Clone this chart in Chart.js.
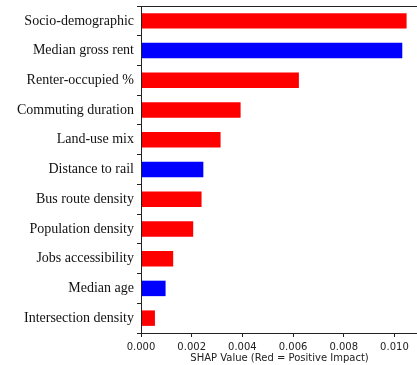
<!DOCTYPE html>
<html>
<head>
<meta charset="utf-8">
<script src="https://cdn.jsdelivr.net/npm/chart.js@4"></script>
<style>
  html, body { margin: 0; padding: 0; background: #fff; overflow: hidden; }
  #wrap { width: 417px; height: 365px; overflow: hidden; }
  canvas { display: block; }
</style>
</head>
<body>
<div id="wrap"><canvas id="c" width="430" height="365"></canvas></div>
<script>
// Feature names, ordered by mean absolute SHAP value
const features = [
  'Socio-demographic', 'Median gross rent', 'Renter-occupied %', 'Commuting duration',
  'Land-use mix', 'Distance to rail', 'Bus route density', 'Population density',
  'Jobs accessibility', 'Median age', 'Intersection density'
];
// Mean |SHAP| per feature
const shapValues = [
  0.01048, 0.01031, 0.00623, 0.00393, 0.00314, 0.00246, 0.00239, 0.00206,
  0.00127, 0.00097, 0.00055
];
// Sign of the effect: true = positive impact (red), false = negative (blue)
const positiveImpact = [
  true, false, true, true, true, false, true, true, true, false, true
];
const xTicks = [0, 0.002, 0.004, 0.006, 0.008, 0.010];

const RED = '#ff0000', BLUE = '#0000ff';

// Draws the axes frame (matplotlib-style spines)
const framePlugin = {
  id: 'frame',
  afterDatasetsDraw(chart) {
    const { ctx, chartArea: a } = chart;
    ctx.save();
    ctx.strokeStyle = '#222';
    ctx.lineWidth = 1;
    ctx.strokeRect(Math.round(a.left) + 0.5, Math.round(a.top) + 0.5,
                   Math.round(a.right - a.left), Math.round(a.bottom - a.top));
    ctx.restore();
  }
};

new Chart(document.getElementById('c'), {
  type: 'bar',
  data: {
    labels: features,
    datasets: [{
      data: shapValues,
      backgroundColor: positiveImpact.map(p => p ? RED : BLUE),
      borderWidth: 0,
      barPercentage: 0.52,
      categoryPercentage: 1.0
    }]
  },
  options: {
    indexAxis: 'y',
    responsive: false,
    animation: false,
    devicePixelRatio: 1,
    layout: { padding: { top: 6, right: 12, bottom: 0, left: 0 } },
    plugins: { legend: { display: false }, tooltip: { enabled: false } },
    scales: {
      x: {
        type: 'linear',
        min: 0,
        max: 0.01093,
        afterBuildTicks: s => { s.ticks = xTicks.map(v => ({ value: v })); },
        afterFit: s => { s.height = 32; },
        grid: { drawOnChartArea: false, drawTicks: true, tickLength: 4, color: '#222' },
        border: { display: false },
        ticks: {
          padding: 4,
          color: '#222',
          font: { family: 'DejaVu Sans', size: 10 },
          callback: v => Number(v).toFixed(3),
          maxRotation: 0
        },
        title: {
          display: true,
          text: 'SHAP Value (Red = Positive Impact)',
          color: '#222',
          font: { family: 'DejaVu Sans', size: 10 },
          padding: { top: 0, bottom: 1 }
        }
      },
      y: {
        afterFit: s => { s.width = 141; s.paddingTop = 0; s.paddingBottom = 0; },
        grid: { drawOnChartArea: false, drawTicks: true, tickLength: 4, color: '#222' },
        border: { display: false },
        ticks: {
          padding: 3,
          color: '#111',
          font: { family: 'Liberation Serif', size: 14 }
        }
      }
    }
  },
  plugins: [framePlugin]
});
</script>
</body>
</html>
